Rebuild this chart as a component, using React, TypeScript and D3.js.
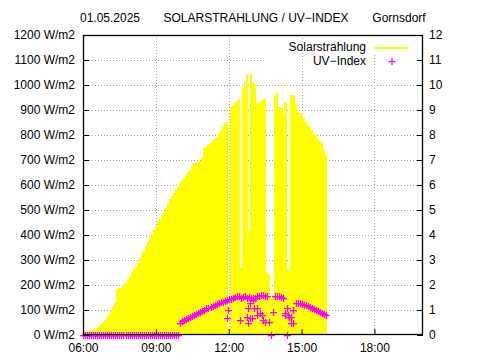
import React, { useEffect, useRef } from "react";
import * as d3 from "d3";

// 5-minute samples from 06:00
const startHour = 6;
const stepMinutes = 5;

const solar: (number | null)[] = [
  10, 12, 15, 17, 18, 20, 24, 30, 36, 45,
  53, 62, 72, 84, 96, 112, 128, 185, 188, 190,
  195, 210, 225, 238, 252, 263, 276, 290, 307, 323,
  338, 355, 372, 388, 404, 420, 437, 452, 466, 480,
  494, 510, 527, 545, 556, 567, 580, 594, 608, 620,
  630, 640, 652, 662, 674, 690, 693, 694, 696, 708,
  748, 752, 760, 770, 779, 786, 793, 810, 822, 833,
  848, 852, null, 913, 920, 927, 935, 943, 268, 988,
  1013, 1040, 420, 1048, 1013, 1004, 927, 930, 933, 946,
  945, 250, 240, 150, 160, 962, 968, 913, 907, 876,
  933, 260, 255, 960, 960, 927, 893, 890, 880, 868,
  853, 840, 833, 820, 805, 800, 785, 775, 768, 740, 720,
];

const uvIndex: number[] = [
  0, 0, 0, 0, 0, 0, 0, 0, 0, 0, 0, 0,
  0, 0, 0, 0, 0, 0, 0, 0, 0, 0, 0, 0,
  0, 0, 0, 0, 0, 0, 0, 0, 0, 0, 0, 0,
  0, 0, 0, 0, 0, 0, 0, 0, 0, 0, 0, 0,
  0.5, 0.55, 0.62, 0.66, 0.7, 0.74, 0.78, 0.82, 0.86, 0.9,
  0.94, 0.98, 1.02, 1.06, 1.1, 1.14, 1.18, 1.22, 1.26, 1.28,
  1.31, 1.34, 1.38, 1.4, 1.43, 1.46, 1.5, 1.52, 1.55, 1.55,
  1.5, 1.52, 1.55, 1.48, 1.52, 1.5, 1.48, 1.5, 1.55, 1.58,
  1.6, 1.6, 1.58, 1.55, 0.52, 0, 0.93, 1.55, 1.55, 1.55,
  1.52, 1.5, 0.8, 0, 0.73, 0.5, 1.0, 1.3, 1.3, 1.28,
  1.25, 1.22, 1.2, 1.18, 1.13, 1.08, 1.03, 1.0, 0.96, 0.92, 0.9, 0.86, 0.82,
];

// extra UV readings in between (cloud dips)
const uvExtraTimes = [
  "11:55", "11:58", "12:27", "12:44", "12:47", "12:47", "12:52", "12:52", "12:57", "12:59",
  "13:02", "13:09", "13:11", "13:17", "13:22", "13:24", "13:29", "14:18", "14:23", "14:26",
  "14:35", "14:38", "14:38",
];
const uvExtraValues = [
  0.68, 1.0, 0.62, 0.73, 1.08, 0.48, 0.68, 1.28, 0.68, 1.4,
  1.07, 0.8, 1.08, 0.87, 0.8, 0.6, 0.53, 0.87, 1.1, 0.8,
  0.73, 0.47, 1.0,
];

const hourTicks = [6, 9, 12, 15, 18];
const hourLabels = ["06:00", "09:00", "12:00", "15:00", "18:00"];
const solarTicks = [0, 100, 200, 300, 400, 500, 600, 700, 800, 900, 1000, 1100, 1200];
const uvTicks = [0, 1, 2, 3, 4, 5, 6, 7, 8, 9, 10, 11, 12];

const W = 480;
const H = 360;
const font = "'Liberation Sans', Arial, sans-serif";

const toHour = (s: string) => {
  const [h, m] = s.split(":").map(Number);
  return h + m / 60;
};

const Chart = () => {
  const ref = useRef<SVGSVGElement>(null);

  useEffect(() => {
    drawChart();
  }, []);

  const drawChart = () => {
    const svg = d3.select(ref.current);
    svg.selectAll("*").remove();

    const left = 83, right = 423, top = 35, bottom = 335;
    const x = d3.scaleLinear().domain([6, 20]).range([left, right]);
    const y = d3.scaleLinear().domain([0, 1200]).range([bottom, top]);
    const y2 = d3.scaleLinear().domain([0, 12]).range([bottom, top]);
    const keyLeft = 265;

    const sampleHour = (i: number) => startHour + (i * stepMinutes) / 60;
    const bw = x(startHour + stepMinutes / 60) - x(startHour);

    // grid
    const grid = svg.append("g")
      .attr("stroke", "#a0a0a0")
      .attr("stroke-width", 1)
      .attr("stroke-dasharray", "1,2");
    grid.selectAll("line.h")
      .data(solarTicks.filter((d) => d > 0 && d < 1200))
      .enter()
      .append("line")
      .attr("x1", left)
      .attr("x2", (d) => (d >= 1100 ? keyLeft : right))
      .attr("y1", (d) => Math.round(y(d)) + 0.5)
      .attr("y2", (d) => Math.round(y(d)) + 0.5);
    grid.selectAll("line.v")
      .data(hourTicks.filter((d) => d > 6))
      .enter()
      .append("line")
      .attr("x1", (d) => Math.round(x(d)) + 0.5)
      .attr("x2", (d) => Math.round(x(d)) + 0.5)
      .attr("y1", (d) => (d >= 18 ? 55 : top))
      .attr("y2", bottom);

    // solar impulses
    svg.append("defs")
      .append("clipPath")
      .attr("id", "plot-clip")
      .append("rect")
      .attr("x", left)
      .attr("y", top)
      .attr("width", right - left)
      .attr("height", bottom - top);

    svg.append("g")
      .attr("clip-path", "url(#plot-clip)")
      .selectAll("rect")
      .data(solar.map((v, i) => ({ t: sampleHour(i), v })).filter((d) => d.v !== null))
      .enter()
      .append("rect")
      .attr("x", (d) => x(d.t) - bw / 2)
      .attr("width", bw + 0.2)
      .attr("y", (d) => y(d.v as number))
      .attr("height", (d) => bottom - y(d.v as number))
      .attr("fill", "#ffff00")
      .attr("shape-rendering", "crispEdges");

    // UV points as "+" markers
    const uvPoints = uvIndex
      .map((v, i) => ({ t: sampleHour(i), v }))
      .concat(uvExtraTimes.map((s, i) => ({ t: toHour(s), v: uvExtraValues[i] })));
    svg.append("g")
      .attr("stroke", "#ff00ff")
      .attr("stroke-width", 1.25)
      .attr("fill", "none")
      .selectAll("path")
      .data(uvPoints)
      .enter()
      .append("path")
      .attr("d", (d) => {
        const cx = Math.round(x(d.t)) + 0.5, cy = Math.round(y2(d.v)) + 0.5;
        return `M${cx - 3.5},${cy}H${cx + 3.5}M${cx},${cy - 3.5}V${cy + 3.5}`;
      });

    // border
    svg.append("rect")
      .attr("x", left + 0.5)
      .attr("y", top + 0.5)
      .attr("width", right - left - 1)
      .attr("height", bottom - top - 1)
      .attr("fill", "none")
      .attr("stroke", "#000")
      .attr("stroke-width", 1.3);

    const styleAxis = (g: any) => {
      g.select(".domain").remove();
      g.attr("font-family", font).attr("font-size", 12);
      g.selectAll("line").attr("stroke", "#000");
      g.selectAll("text").attr("fill", "#000");
    };

    svg.append("g")
      .attr("transform", `translate(${left},0)`)
      .call(
        d3.axisLeft(y)
          .tickValues(solarTicks)
          .tickFormat((d) => `${d} W/m2`)
          .tickSizeInner(-6)
          .tickSizeOuter(0)
          .tickPadding(8)
      )
      .call(styleAxis);

    svg.append("g")
      .attr("transform", `translate(${right},0)`)
      .call(
        d3.axisRight(y2)
          .tickValues(uvTicks)
          .tickFormat((d) => `${d}`)
          .tickSizeInner(-6)
          .tickSizeOuter(0)
          .tickPadding(6)
      )
      .call(styleAxis);

    svg.append("g")
      .attr("transform", `translate(0,${bottom})`)
      .call(
        d3.axisBottom(x)
          .tickValues(hourTicks)
          .tickFormat((d, i) => hourLabels[i])
          .tickSizeInner(-6)
          .tickSizeOuter(0)
          .tickPadding(8)
      )
      .call(styleAxis);

    // title row
    const title = svg.append("g")
      .attr("font-family", font)
      .attr("font-size", 12)
      .attr("fill", "#000")
      .attr("text-anchor", "middle");
    title.append("text").attr("x", 110).attr("y", 21.5).text("01.05.2025");
    title.append("text").attr("x", 256).attr("y", 21.5).text("SOLARSTRAHLUNG / UV\u2212INDEX");
    title.append("text").attr("x", 399).attr("y", 21.5).text("Gornsdorf");

    // key
    const key = svg.append("g")
      .attr("font-family", font)
      .attr("font-size", 12)
      .attr("fill", "#000");
    key.append("text")
      .attr("x", 366)
      .attr("y", 50.5)
      .attr("text-anchor", "end")
      .text("Solarstrahlung");
    key.append("line")
      .attr("x1", 374)
      .attr("x2", 408)
      .attr("y1", 48)
      .attr("y2", 48)
      .attr("stroke", "#ffff00")
      .attr("stroke-width", 2);
    key.append("text")
      .attr("x", 366)
      .attr("y", 64.5)
      .attr("text-anchor", "end")
      .text("UV\u2212Index");
    key.append("path")
      .attr("d", "M388.5,61.5H395.5M392,58V65")
      .attr("stroke", "#ff00ff")
      .attr("stroke-width", 1.25);
  };

  return <svg ref={ref} width={W} height={H} style={{ display: "block" }} />;
};

export default function App() {
  return (
    <div style={{ position: "fixed", left: 0, top: 0, width: W, height: H, background: "#fff" }}>
      <Chart />
    </div>
  );
}
